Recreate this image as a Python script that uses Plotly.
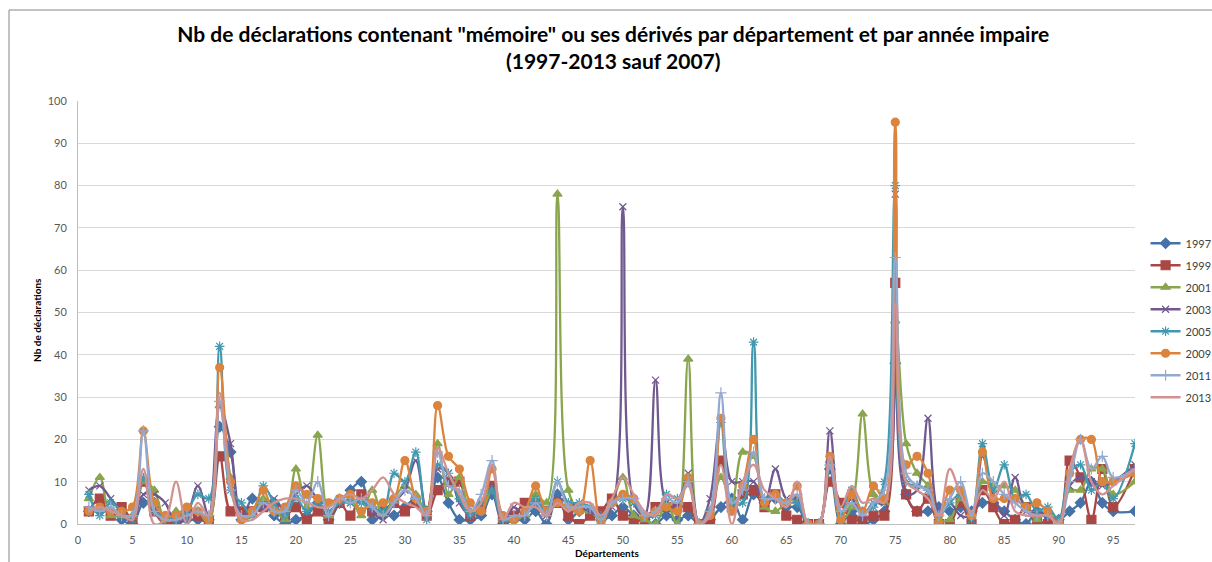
import plotly.graph_objects as go

depts = list(range(1, 96)) + [97]

s1997 = [3,3,3,1,0,5,5,0,0,1,1,1,23,17,1,6,5,2,0,1,2,5,1,5,8,10,1,2,2,4,6,3,11,5,1,1,2,7,0,1,1,3,0,7,1,3,3,1,2,4,2,1,0,2,1,2,0,1,4,6,1,7,5,6,4,4,0,0,13,0,3,0,1,3,38,7,3,3,4,3,4,3,5,5,3,1,0,3,2,1,3,5,10,5,3,3]
s1999 = [3,6,2,4,1,10,3,0,1,3,2,1,16,3,3,3,4,4,2,4,1,3,1,5,2,7,3,3,5,3,5,2,8,10,10,2,4,9,1,2,5,5,3,5,2,0,2,3,6,2,1,1,4,4,4,4,0,1,15,4,7,8,4,7,2,1,0,0,10,5,1,1,2,2,57,7,3,6,0,0,5,0,8,4,0,1,4,1,0,0,15,11,1,13,4,13]
s2001 = [6,11,2,2,2,10,8,1,3,2,3,0,28,11,1,2,6,4,1,13,4,21,2,6,6,2,8,2,6,9,7,3,19,7,11,3,3,8,1,1,2,7,5,78,8,3,3,1,5,11,2,1,0,5,0,39,0,3,11,5,17,16,4,3,5,6,0,0,15,1,4,26,7,5,48,19,12,9,1,1,6,2,10,9,9,8,4,1,3,1,8,8,13,13,7,10]
s2003 = [8,9,6,3,1,7,7,5,0,2,9,2,28,19,2,3,4,6,3,7,9,6,5,6,5,6,3,1,5,8,15,3,13,12,5,2,5,9,0,4,2,5,2,6,5,4,3,2,4,75,5,2,34,5,4,12,0,6,25,10,10,10,5,13,6,6,0,0,22,2,6,2,5,5,78,7,8,25,3,5,2,2,16,7,2,11,3,3,2,1,9,11,10,9,10,14]
s2005 = [7,2,5,3,1,11,3,2,1,3,7,6,42,8,5,2,9,5,2,6,3,5,3,5,5,5,4,3,12,10,17,1,14,12,6,2,5,8,1,1,3,6,3,10,5,5,4,2,5,6,5,2,2,7,6,10,0,3,24,5,5,43,6,7,5,5,0,0,14,2,8,3,4,10,80,10,9,8,2,5,7,1,19,8,14,6,7,3,4,1,12,14,8,10,6,19]
s2009 = [3,4,3,3,4,22,5,2,2,4,3,1,37,10,1,3,8,3,4,9,7,6,5,6,7,3,5,5,6,15,6,3,28,16,13,5,3,13,2,1,3,9,3,5,4,3,15,0,5,7,6,2,3,4,3,11,0,2,25,3,9,20,5,7,5,9,0,0,16,1,7,3,9,6,95,14,16,12,0,8,8,2,17,6,6,6,4,5,3,0,12,20,20,10,10,12]
s2011 = [4,3,4,2,2,22,3,1,1,2,3,2,29,8,2,2,5,3,3,8,5,10,2,6,5,6,4,2,5,8,6,2,17,9,8,3,7,15,1,2,2,5,2,10,4,4,4,1,5,6,6,2,3,6,5,10,0,3,31,5,8,17,6,6,5,7,0,0,14,3,5,2,5,8,63,12,9,8,2,6,10,2,12,10,7,5,3,2,2,0,10,20,13,16,11,13]
s2013 = [3,4,3,2,1,13,0,1,10,0,5,2,31,9,1,1,3,5,6,6,5,4,4,6,7,6,8,11,7,5,4,2,18,12,7,3,5,14,1,5,4,4,2,5,3,5,5,2,6,11,7,3,2,7,6,9,0,2,14,0,10,14,8,6,4,10,0,0,16,4,9,5,6,5,52,10,8,6,2,13,7,3,8,6,10,3,2,2,2,0,13,20,10,7,9,13]

years = ["1997", "1999", "2001", "2003", "2005", "2009", "2011", "2013"]
series = [s1997, s1999, s2001, s2003, s2005, s2009, s2011, s2013]
colors = ["#4572A7", "#AA4643", "#89A54E", "#71588F", "#4198AF", "#DB843D", "#93A9CF", "#D19392"]
symbols = ["diamond", "square", "triangle-up", "x-thin-open", "asterisk-open", "circle", "cross-thin-open", None]
sizes = [8, 9, 8, 7, 8, 8, 8, 0]

FONT = "Lato"
fig = go.Figure()
for yr, vals, col, sym, sz in zip(years, series, colors, symbols, sizes):
    marker = dict(color=col, size=sz, line=dict(color=col, width=1.2))
    if sym:
        marker["symbol"] = sym
    fig.add_trace(go.Scatter(
        x=depts, y=vals, name=yr, legendgroup=yr,
        mode="lines+markers" if sym else "lines",
        line=dict(color=col, width=2.3, shape="spline", smoothing=1.0),
        marker=marker,
    ))

fig.update_layout(
    width=1212, height=562,
    margin=dict(l=78, r=77, t=101, b=38, autoexpand=False),
    paper_bgcolor="white", plot_bgcolor="white",
    font=dict(family=FONT, size=11, color="#595959"),
    title=dict(
        text='Nb de déclarations contenant "mémoire" ou ses dérivés par département et par année impaire<br>(1997-2013 sauf 2007)',
        x=0.506, xanchor="center", y=0.925, yanchor="top",
        font=dict(family=FONT, size=21, color="#000000", weight="bold"),
    ),
    legend=dict(
        x=1.01, xanchor="left", y=0.698, yanchor="top",
        font=dict(family=FONT, size=11, color="#404040"),
        tracegroupgap=3, itemwidth=30, bgcolor="rgba(0,0,0,0)",
    ),
    showlegend=True,
)
fig.update_xaxes(
    range=[0, 97], tick0=0, dtick=5, showgrid=False, zeroline=False,
    showline=True, linecolor="#BFBFBF", linewidth=1, ticks="", automargin=False,
    ticklabelstandoff=6, tickfont=dict(size=11, color="#595959"),
)
fig.update_yaxes(
    range=[0, 100], tick0=0, dtick=10, showgrid=True, gridcolor="#D9D9D9",
    gridwidth=1, zeroline=False, showline=True, linecolor="#BFBFBF", automargin=False,
    linewidth=1, ticks="", ticklabelstandoff=8, tickfont=dict(size=11, color="#595959"),
)
fig.add_annotation(
    text="Nb de déclarations", xref="paper", yref="paper",
    x=(37 - 78) / 1057, y=(524 - 320) / 423, textangle=-90,
    showarrow=False, xanchor="center", yanchor="middle",
    font=dict(family=FONT, size=10, color="#000000", weight="bold"),
)
fig.add_annotation(
    text="Départements", xref="paper", yref="paper",
    x=(607 - 78) / 1057, y=(524 - 553) / 423,
    showarrow=False, xanchor="center", yanchor="middle",
    font=dict(family=FONT, size=10, color="#000000", weight="bold"),
)
# outer chart frame (left and top edges)
fig.add_shape(type="line", xref="paper", yref="paper",
              x0=(9 - 78) / 1057, x1=(9 - 78) / 1057,
              y0=(524 - 10) / 423, y1=(524 - 600) / 423,
              line=dict(color="#868686", width=1))
fig.add_shape(type="line", xref="paper", yref="paper",
              x0=(9 - 78) / 1057, x1=(1212 - 78) / 1057,
              y0=(524 - 10) / 423, y1=(524 - 10) / 423,
              line=dict(color="#868686", width=1))

fig.write_html(
    "out.html",
    config={"displayModeBar": False},
    post_script="document.body.style.margin='0';document.body.style.overflow='hidden';",
)
